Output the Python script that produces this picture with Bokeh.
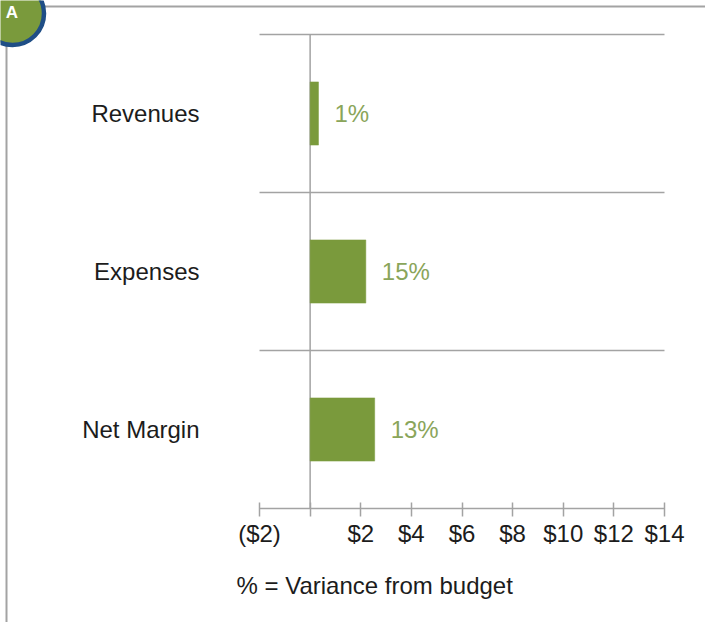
from bokeh.plotting import figure
from bokeh.models import Range1d, FixedTicker, LinearAxis, ColumnDataSource
from bokeh.core.properties import value
from bokeh.embed import file_html
from bokeh.resources import INLINE

categories = ["Revenues", "Expenses", "Net Margin"]
amounts = [0.33, 2.2, 2.55]
percent_labels = ["1%", "15%", "13%"]
x_ticks = [-2, 0, 2, 4, 6, 8, 10, 12, 14]
x_tick_labels = ["($2)", "", "$2", "$4", "$6", "$8", "$10", "$12", "$14"]
note = "% = Variance from budget"

FONT = "Liberation Sans"
GREY = "#a3a3a3"
BAR = "#7a9a3c"
LABEL_GREEN = "#8aa55a"
INK = "#1c1c1c"
NAVY = "#1f4e86"

W, H = 705, 622
OX, OY = 0, 0          # page offset of the canvas


# page pixel -> data helpers so that the frame can fill the whole canvas
def xd(px):
    return -2 + (px - 259) / 25.3125


def yd(py):
    return (py - 34) / 158


positions = [i + 0.5 for i in range(len(categories))]
src = ColumnDataSource(dict(y=positions, right=amounts, left=[0] * 3, label=percent_labels))

p = figure(width=W, height=H, output_backend="svg", toolbar_location=None,
           x_range=Range1d(xd(OX), xd(OX + W)), y_range=Range1d(yd(OY + H), yd(OY)),
           x_axis_type=None, y_axis_type=None,
           min_border_left=0, min_border_right=0, min_border_top=0, min_border_bottom=0)
p.outline_line_color = None
p.background_fill_color = "white"

bottom = LinearAxis(ticker=FixedTicker(ticks=x_ticks), fixed_location=3, bounds=(-2, 14),
                    major_label_overrides={t: l for t, l in zip(x_ticks, x_tick_labels)},
                    axis_line_color=GREY, axis_line_width=1.5,
                    major_tick_line_color=GREY, major_tick_line_width=1.5,
                    major_tick_in=6, major_tick_out=8, minor_tick_line_color=None,
                    major_label_text_font=FONT, major_label_text_font_size="24px",
                    major_label_text_color=INK, major_label_standoff=3)
p.add_layout(bottom, "below")

left = LinearAxis(ticker=FixedTicker(ticks=positions), fixed_location=-2,
                  major_label_overrides={t: c for t, c in zip(positions, categories)},
                  axis_line_color=None, major_tick_line_color=None, minor_tick_line_color=None,
                  major_label_text_font=FONT, major_label_text_font_size="24px",
                  major_label_text_color=INK, major_label_standoff=54,
                  major_label_orientation="horizontal")
p.add_layout(left, "left")

p.segment(x0=[-2] * 3, x1=[14] * 3, y0=[0, 1, 2], y1=[0, 1, 2], line_color=GREY, line_width=1.5)
p.segment(x0=[0], x1=[0], y0=[0], y1=[3], line_color=GREY, line_width=1.5)

p.hbar(y="y", left="left", right="right", height=0.4, source=src,
       fill_color=BAR, line_color=BAR, line_width=0.5)
p.text(x="right", y="y", text="label", source=src, x_offset=16,
       text_font=value(FONT), text_font_size="24px", text_color=LABEL_GREEN,
       text_align="left", text_baseline="middle")
p.text(x=[xd(236)], y=[yd(585)], text=[note], text_font=value(FONT), text_font_size="24px",
       text_color=INK, text_align="left", text_baseline="middle")

# page furniture: frame lines and the badge
p.segment(x0=[xd(30)], x1=[xd(705)], y0=[yd(6)], y1=[yd(6)], line_color=GREY, line_width=2)
p.segment(x0=[xd(6)], x1=[xd(6)], y0=[yd(30)], y1=[yd(622)], line_color=GREY, line_width=2)
p.scatter(x=[xd(12)], y=[yd(13)], size=63, marker="circle", fill_color=BAR,
          line_color=NAVY, line_width=4.5)
p.text(x=[xd(11.5)], y=[yd(11.5)], text=["A"], text_color="white", text_font=value(FONT),
       text_font_style="bold", text_font_size="17px", text_align="center", text_baseline="middle")

open("out.html", "w").write(file_html(p, INLINE))
